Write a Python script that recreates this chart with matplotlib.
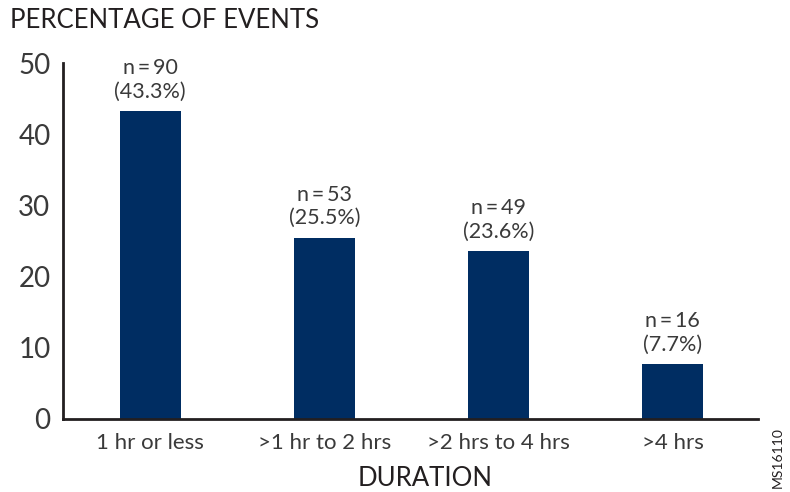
import matplotlib
matplotlib.use("Agg")
import matplotlib.pyplot as plt

categories = ["1 hr or less", ">1 hr to 2 hrs", ">2 hrs to 4 hrs", ">4 hrs"]
percentages = [43.3, 25.5, 23.6, 7.7]
counts = [90, 53, 49, 16]
yticks = [0, 10, 20, 30, 40, 50]

plt.rcParams['font.family'] = ['Lato', 'DejaVu Sans']
txt = '#3a3a3a'
bar_color = '#002d62'

fig = plt.figure(figsize=(7.9, 4.92), dpi=100)
ax = fig.add_axes([0.0797, 0.1484, 0.88, 0.7226])
x = list(range(len(categories)))
ax.bar(x, percentages, width=0.35, color=bar_color, zorder=2)
for xi, p, n in zip(x, percentages, counts):
    ax.annotate(f"n\u2009=\u2009{n}\n({p}%)", xy=(xi, p), xytext=(0, 7),
                textcoords='offset points', ha='center', va='bottom',
                fontsize=15.5, color=txt, linespacing=1.2)

ax.set_xlim(-0.5, 3.49)
ax.set_ylim(0, 50)
ax.set_yticks(yticks)
ax.set_yticklabels([str(t) for t in yticks], fontsize=20, color=txt)
ax.set_xticks(x)
ax.set_xticklabels(categories, fontsize=16, color=txt)
ax.tick_params(axis='y', length=0, pad=9)
ax.tick_params(axis='x', length=0, pad=10)
for s in ['top', 'right']:
    ax.spines[s].set_visible(False)
for s in ['left', 'bottom']:
    ax.spines[s].set_linewidth(2)
    ax.spines[s].set_color('#231f20')

fig.text(10/790, 1 - 20/492, "PERCENTAGE OF EVENTS", fontsize=18.5, color='#231f20',
         ha='left', va='center')
fig.text(425/790, 1 - 478/492, "DURATION", fontsize=18.5, color='#231f20',
         ha='center', va='center')
fig.text(778/790, 1 - 458/492, "MS16110", fontsize=10, color='#231f20',
         ha='center', va='center', rotation=90)

fig.savefig("out.png", dpi=100)
